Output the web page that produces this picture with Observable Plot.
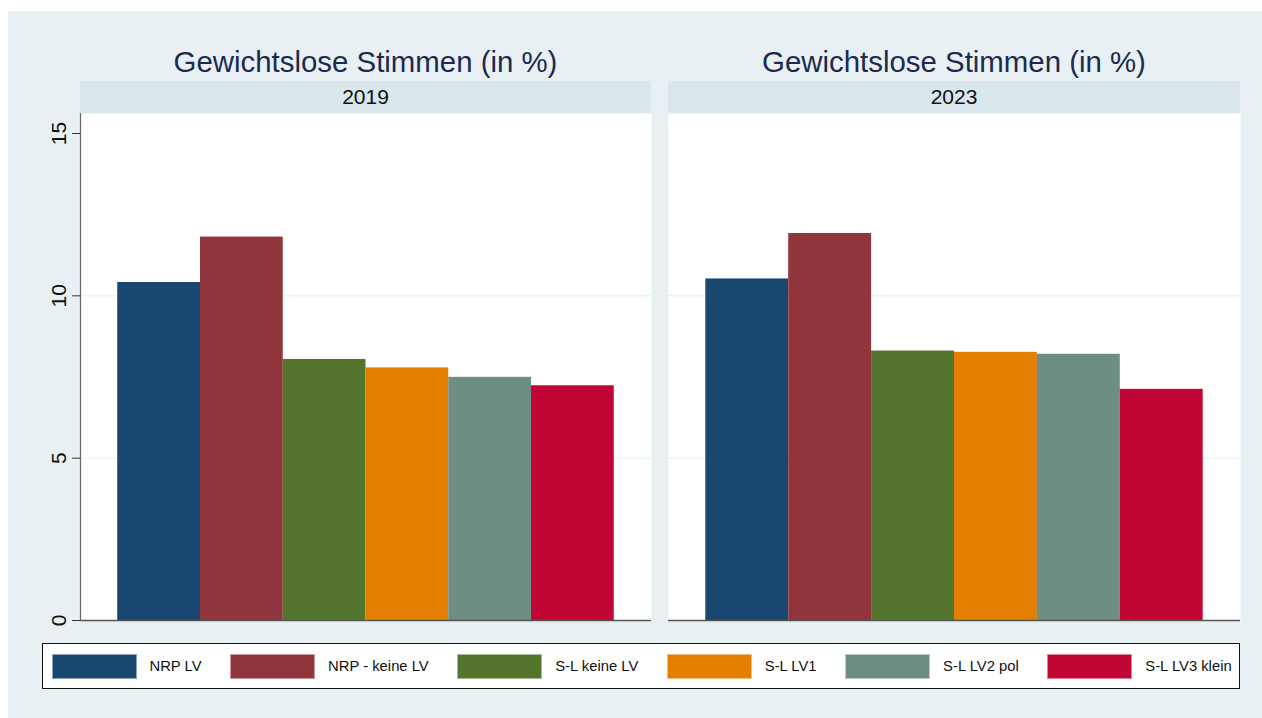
<!DOCTYPE html>
<html>
<head>
<meta charset="utf-8">
<script src="https://cdn.jsdelivr.net/npm/d3@7"></script>
<script src="https://cdn.jsdelivr.net/npm/@observablehq/plot@0.6"></script>
<style>
  html, body { margin: 0; padding: 0; background: #ffffff; }
  body { width: 1262px; height: 718px; position: relative; overflow: hidden;
         font-family: "Liberation Sans", Arial, sans-serif; }
  #bg { position: absolute; left: 8px; top: 11px; right: 0; bottom: 0; background: #e8f0f3; }
  .title { position: absolute; top: 47px; font-size: 29.4px; line-height: 29.4px; color: #1b2b4f;
           text-align: center; white-space: nowrap; }
  .strip { position: absolute; top: 81px; height: 32px; line-height: 32px; background: #d9e6eb;
           font-size: 21px; color: #111; text-align: center; }
  .panel { position: absolute; top: 113px; }
  #legend { position: absolute; left: 42px; top: 643px; width: 1198px; height: 46px; box-sizing: border-box;
            border: 1.6px solid #111; background: #fff; display: flex; align-items: center;
            padding-left: 8.5px; }
  .item { display: flex; align-items: center; margin-right: 28.5px; }
  .sw { width: 85px; height: 25px; box-sizing: border-box; border: 1px solid rgba(255,255,255,0.5); }
  .lab { margin-left: 13px; font-size: 14.8px; color: #111; white-space: nowrap; }
</style>
</head>
<body>
<div id="bg"></div>
<div id="root"></div>
<div id="legend"></div>
<script>
const categories = ["NRP LV", "NRP - keine LV", "S-L keine LV", "S-L LV1", "S-L LV2 pol", "S-L LV3 klein"];
const colors = ["#1a476f", "#90353b", "#55752f", "#e37e00", "#6e8e84", "#c10534"];
const years = ["2019", "2023"];
const values2019 = [10.41, 11.81, 8.04, 7.78, 7.49, 7.23];
const values2023 = [10.52, 11.92, 8.30, 8.26, 8.20, 7.12];
const yTicks = [0, 5, 10, 15];
const gridTicks = [5, 10];
const panelTitle = "Gewichtslose Stimmen (in %)";

const seriesByYear = [values2019, values2023];

// panel geometry: plot area x-range
const panels = [
  {svgLeft: 30, marginLeft: 50, plotLeft: 80, plotWidth: 571, axis: true},
  {svgLeft: 668, marginLeft: 0, plotLeft: 668, plotWidth: 572, axis: false}
];

const root = document.getElementById("root");
const ff = '"Liberation Sans", Arial, sans-serif';

panels.forEach((p, i) => {
  const title = document.createElement("div");
  title.className = "title";
  title.style.left = p.plotLeft + "px";
  title.style.width = p.plotWidth + "px";
  title.textContent = panelTitle;
  root.appendChild(title);

  const strip = document.createElement("div");
  strip.className = "strip";
  strip.style.left = p.plotLeft + "px";
  strip.style.width = p.plotWidth + "px";
  strip.textContent = years[i];
  root.appendChild(strip);

  const data = categories.map((c, k) => ({cat: c, value: seriesByYear[i][k]}));

  const marks = [
    Plot.frame({fill: "white", stroke: null}),
    Plot.gridY(gridTicks, {stroke: "#e4ecef", strokeOpacity: 1, strokeWidth: 1}),
    Plot.barY(data, {x: "cat", y: "value", fill: "cat"}),
    Plot.ruleY([0], {stroke: "#555", strokeWidth: 1.3})
  ];
  if (p.axis) {
    marks.push(Plot.frame({anchor: "left", stroke: "#666", strokeWidth: 1.2}));
    marks.push(Plot.axisY(yTicks, {
      tickSize: 8, tickPadding: 7, tickRotate: -90, fontSize: 21, fill: "#111", stroke: "#333",
      textAnchor: "middle", lineAnchor: "bottom", label: null
    }));
  }

  const chart = Plot.plot({
    width: p.plotWidth + p.marginLeft,
    height: 509,
    marginTop: 0,
    marginBottom: 2,
    marginLeft: p.marginLeft,
    marginRight: 0,
    style: {background: "transparent", fontFamily: ff, overflow: "visible"},
    x: {domain: categories, paddingInner: 0, paddingOuter: 0.45, round: false, axis: null},
    y: {domain: [0, 15], insetTop: 20, axis: null},
    color: {domain: categories, range: colors},
    marks
  });
  chart.classList.add("panel");
  chart.style.position = "absolute";
  chart.style.left = p.svgLeft + "px";
  chart.style.top = "113px";
  root.appendChild(chart);
});

const legend = document.getElementById("legend");
categories.forEach((c, k) => {
  const item = document.createElement("div");
  item.className = "item";
  const sw = document.createElement("div");
  sw.className = "sw";
  sw.style.background = colors[k];
  const lab = document.createElement("div");
  lab.className = "lab";
  lab.textContent = c;
  item.appendChild(sw);
  item.appendChild(lab);
  legend.appendChild(item);
});
</script>
</body>
</html>
